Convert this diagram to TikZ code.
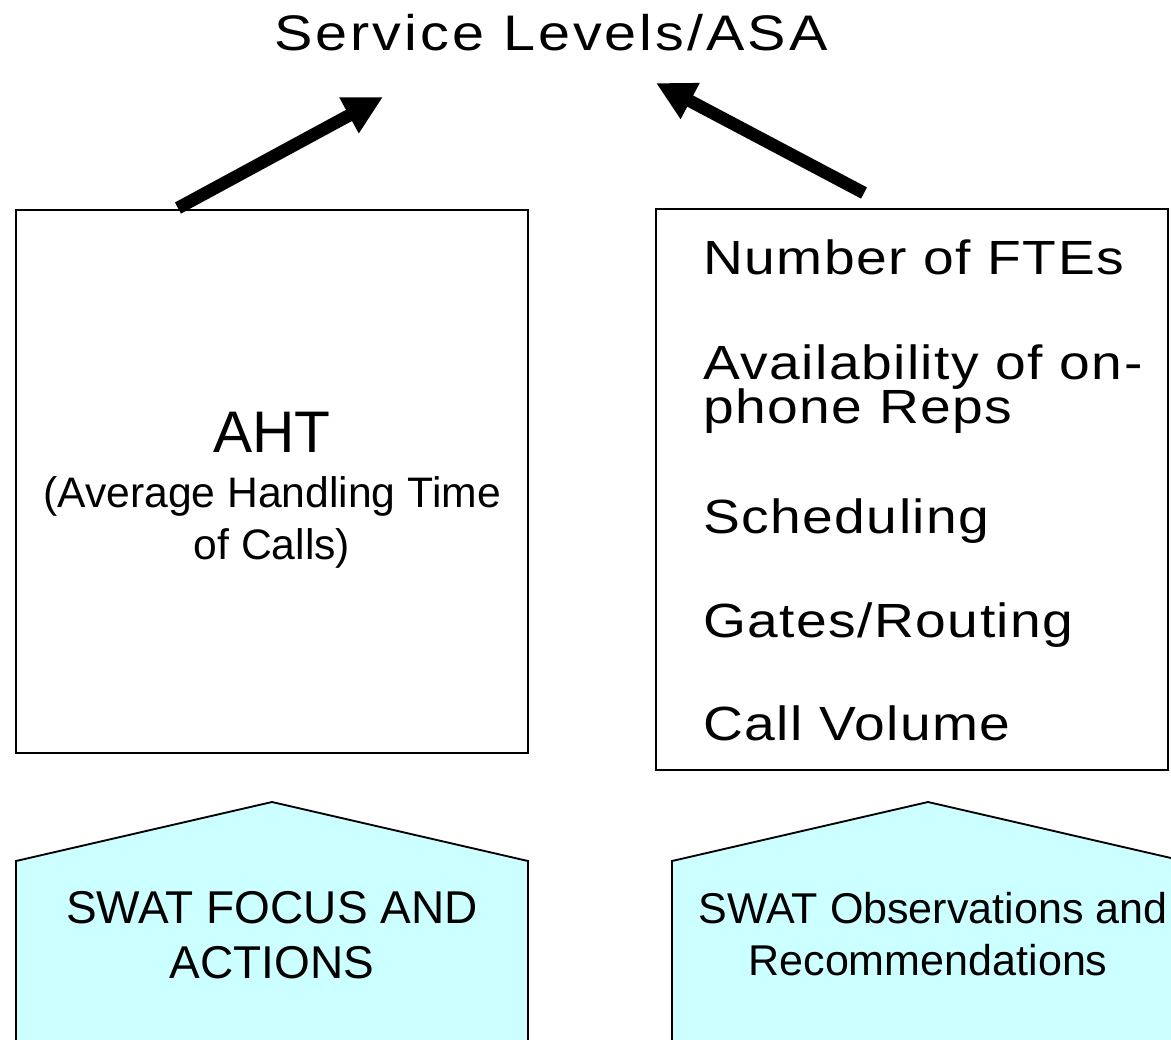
\documentclass[tikz,border=0pt]{standalone}
\usepackage{fontspec}
\setmainfont{Liberation Sans}
\newfontfamily\spacedA[FakeStretch=1.15,LetterSpace=6]{Liberation Sans}
\newfontfamily\spacedB[FakeStretch=1.15,LetterSpace=3]{Liberation Sans}
\usetikzlibrary{arrows.meta}
\definecolor{paleCyan}{HTML}{CCFFFF}
\tikzset{
  boxframe/.style={draw=black, line width=1.5pt, fill=white, inner sep=0pt},
  bigarrow/.style={line width=9.5pt, -{Triangle[length=29pt,width=28.5pt]}},
  penta/.style={draw=black, line width=1.4pt, fill=paleCyan},
  titletxt/.style={anchor=base, inner sep=0pt, font=\spacedA\fontsize{37.5}{44}\selectfont},
  listtxt/.style={anchor=base west, inner sep=0pt, font=\spacedB\fontsize{36}{44}\selectfont},
  ahttxt/.style={anchor=base, inner sep=0pt, font=\fontsize{44}{52}\selectfont},
  subtxt/.style={anchor=base, inner sep=0pt, font=\fontsize{32}{38}\selectfont},
  pentatxt/.style={anchor=base, inner sep=0pt, font=\fontsize{34.5}{40}\selectfont},
  pentatxtb/.style={anchor=base, inner sep=0pt, font=\fontsize{32.3}{40}\selectfont},
}
\begin{document}
\begin{tikzpicture}[x=0.75pt, y=-0.75pt]
\useasboundingbox (0,0) rectangle (1171,1039);
\clip (0,0) rectangle (1171,1039);

% title
\node[titletxt] (title) at (551,50) {Service Levels/ASA};

% boxes
\node[boxframe, minimum width=384pt, minimum height=407.25pt] (leftbox) at (272,481.5) {};
\node[boxframe, minimum width=384pt, minimum height=420.75pt] (rightbox) at (912,489.5) {};

% left box texts
\node[ahttxt] (aht) at (272,452) {AHT};
\node[subtxt] (aht2) at (272,507) {(Average Handling Time};
\node[subtxt] (aht3) at (272,559) {of Calls)};

% right box list
\node[listtxt] (l1) at (703,274) {Number of FTEs};
\node[listtxt] (l2) at (703,379) {Availability of on-};
\node[listtxt] (l3) at (703,423) {phone Reps};
\node[listtxt] (l4) at (703,533) {Scheduling};
\node[listtxt] (l5) at (703,637) {Gates/Routing};
\node[listtxt] (l6) at (703,740) {Call Volume};

% arrows
\coordinate (la1) at (178,208);
\coordinate (la2) at (383,97);
\coordinate (ra1) at (864,193);
\coordinate (ra2) at (656,83);
\draw[bigarrow] (la1) -- (la2);
\draw[bigarrow] (ra1) -- (ra2);

% pentagons
\draw[penta] (16,1050) -- (16,861) -- (272,802) -- (528,861) -- (528,1050);
\draw[penta] (672,1050) -- (672,861) -- (928,802) -- (1184,861) -- (1184,1050);

\node[pentatxt] (p1a) at (272,923) {SWAT FOCUS AND};
\node[pentatxt] (p1b) at (272,978) {ACTIONS};
\node[pentatxtb] (p2a) at (933,923) {SWAT Observations and};
\node[pentatxtb] (p2b) at (928,975) {Recommendations};
\end{tikzpicture}
\end{document}
